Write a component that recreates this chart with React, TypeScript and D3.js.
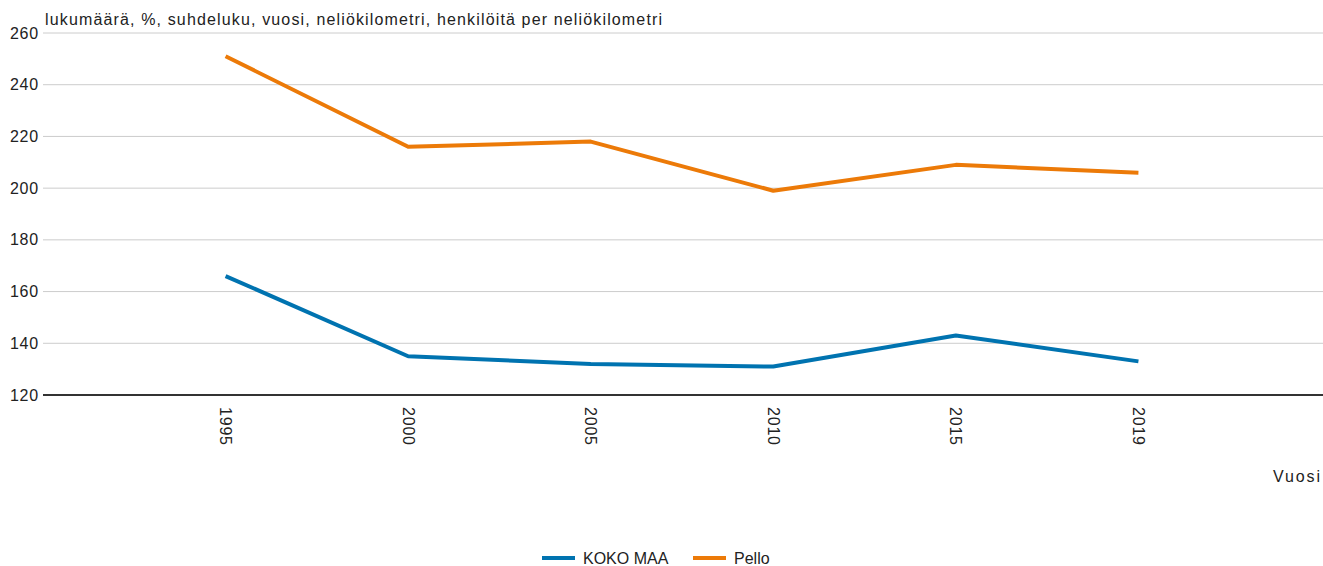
import React, { useRef, useEffect } from "react";
import * as d3 from "d3";

const years = ["1995", "2000", "2005", "2010", "2015", "2019"];
const kokoMaa = [166, 135, 132, 131, 143, 133];
const pello = [251, 216, 218, 199, 209, 206];
const yTicks = [120, 140, 160, 180, 200, 220, 240, 260];
const seriesNames = ["KOKO MAA", "Pello"];
const seriesColors = ["#0073b0", "#ec7a08"];

const W = 1323;
const H = 566;
const FONT = "'Liberation Sans', Arial, sans-serif";

export default function App() {
  const svgRef = useRef<SVGSVGElement>(null);

  useEffect(() => {
    if (!svgRef.current) return;
    const svg = d3.select(svgRef.current);
    svg.selectAll("*").remove();

    const left = 43;
    const right = 1321;
    const top = 33;
    const bottom = 395;

    const x = d3.scalePoint<string>().domain(years).range([left, right]).padding(1);
    const y = d3.scaleLinear().domain([120, 260]).range([bottom, top]);

    // gridlines
    svg
      .append("g")
      .selectAll("line")
      .data(yTicks.filter((t) => t !== 120))
      .enter()
      .append("line")
      .attr("x1", left)
      .attr("x2", W)
      .attr("y1", (d) => y(d))
      .attr("y2", (d) => y(d))
      .attr("stroke", "#cccccc")
      .attr("stroke-width", 1);

    // y tick labels
    svg
      .append("g")
      .selectAll("text")
      .data(yTicks)
      .enter()
      .append("text")
      .attr("x", 39)
      .attr("y", (d) => y(d))
      .attr("dy", "0.35em")
      .attr("text-anchor", "end")
      .style("font-family", FONT)
      .style("font-size", "16px")
      .style("letter-spacing", "0.8px")
      .style("fill", "#222")
      .text((d) => d);

    // title / unit
    svg
      .append("text")
      .attr("x", 45)
      .attr("y", 25)
      .attr("textLength", 617)
      .attr("lengthAdjust", "spacing")
      .style("font-family", FONT)
      .style("font-size", "16px")
      .style("fill", "#222")
      .text("lukumäärä, %, suhdeluku, vuosi, neliökilometri, henkilöitä per neliökilometri");

    // lines
    const line = d3
      .line<number>()
      .x((_, i) => x(years[i])!)
      .y((d) => y(d));

    [kokoMaa, pello].forEach((vals, i) => {
      svg
        .append("path")
        .datum(vals)
        .attr("d", line)
        .attr("fill", "none")
        .attr("stroke", seriesColors[i])
        .attr("stroke-width", 4)
        .attr("stroke-linejoin", "round");
    });

    // baseline
    svg
      .append("line")
      .attr("x1", left)
      .attr("x2", W)
      .attr("y1", y(120))
      .attr("y2", y(120))
      .attr("stroke", "#333")
      .attr("stroke-width", 2);

    // x tick labels (rotated)
    svg
      .append("g")
      .selectAll("text")
      .data(years)
      .enter()
      .append("text")
      .attr("transform", (d) => `translate(${x(d)},407) rotate(90)`)
      .attr("dy", "0.35em")
      .style("font-family", FONT)
      .style("font-size", "16px")
      .style("letter-spacing", "0.8px")
      .style("fill", "#222")
      .text((d) => d);

    // x axis title
    svg
      .append("text")
      .attr("x", 1273)
      .attr("y", 482)
      .attr("textLength", 47)
      .attr("lengthAdjust", "spacing")
      .style("font-family", FONT)
      .style("font-size", "16px")
      .style("fill", "#222")
      .text("Vuosi");

    // legend
    const legendItems = [
      { x: 542, name: seriesNames[0], color: seriesColors[0] },
      { x: 693, name: seriesNames[1], color: seriesColors[1] },
    ];
    const lg = svg.append("g").selectAll("g").data(legendItems).enter().append("g");
    lg.append("line")
      .attr("x1", (d) => d.x)
      .attr("x2", (d) => d.x + 33)
      .attr("y1", 558)
      .attr("y2", 558)
      .attr("stroke", (d) => d.color)
      .attr("stroke-width", 4);
    lg.append("text")
      .attr("x", (d) => d.x + 41)
      .attr("y", 558)
      .attr("dy", "0.35em")
      .style("font-family", FONT)
      .style("font-size", "16px")
      .style("fill", "#222")
      .text((d) => d.name);
  }, []);

  return (
    <div style={{ position: "absolute", left: 0, top: 0 }}>
      <svg ref={svgRef} width={W} height={H} style={{ display: "block", background: "#fff" }} />
    </div>
  );
}
